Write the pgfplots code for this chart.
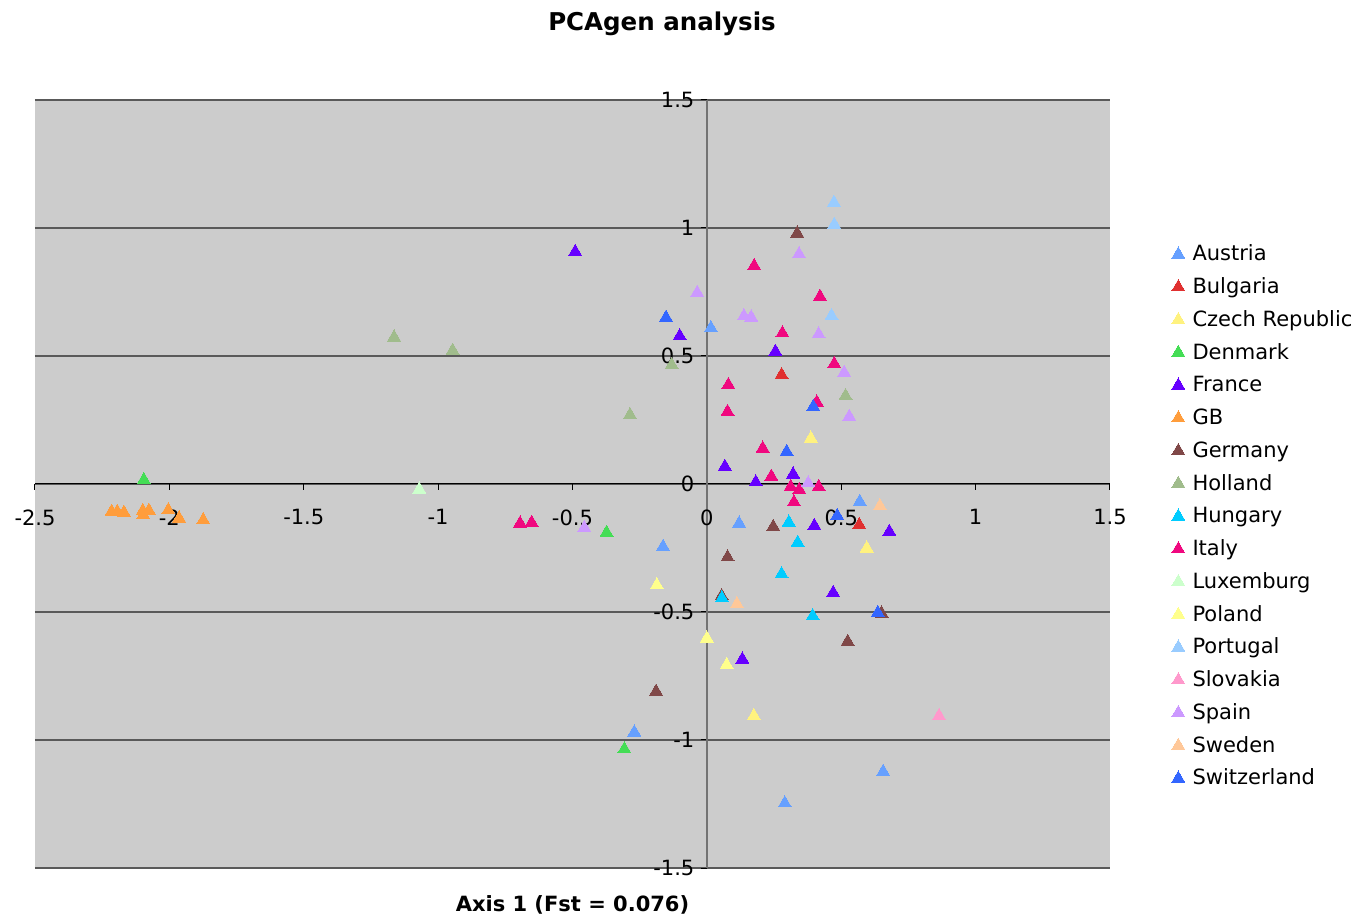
\documentclass[border=0pt]{standalone}
\usepackage{pgfplots}
\pgfplotsset{compat=1.18}
\usepackage{fontspec}
\setmainfont{DejaVu Sans}
\definecolor{cAustria}{HTML}{66A0FF}
\definecolor{cBulgaria}{HTML}{E03030}
\definecolor{cCzech}{HTML}{FFF27F}
\definecolor{cDenmark}{HTML}{44DD55}
\definecolor{cFrance}{HTML}{6600FF}
\definecolor{cGB}{HTML}{FF9D3C}
\definecolor{cGermany}{HTML}{804848}
\definecolor{cHolland}{HTML}{A0BC8C}
\definecolor{cHungary}{HTML}{00CCFF}
\definecolor{cItaly}{HTML}{F0087F}
\definecolor{cLux}{HTML}{CCFFCC}
\definecolor{cPoland}{HTML}{FFFF8C}
\definecolor{cPortugal}{HTML}{99CCFF}
\definecolor{cSlovakia}{HTML}{FF99CC}
\definecolor{cSpain}{HTML}{CC99FF}
\definecolor{cSweden}{HTML}{FFC899}
\definecolor{cSwiss}{HTML}{3366FF}
\pgfplotsset{pt/.style={only marks, mark=triangle*, mark size=7.5pt, mark options={fill=#1, draw=#1, line width=0pt}}}
\begin{document}
\begin{tikzpicture}
\path[use as bounding box] (-35pt,-50pt) rectangle (1322pt,868pt);
\begin{axis}[
  at={(0pt,0pt)}, anchor=south west,
  scale only axis, width=1075pt, height=768pt,
  xmin=-2.5, xmax=1.5, ymin=-1.5, ymax=1.5,
  axis lines=middle,
  axis line style={-},
  x axis line style={black, line width=1pt},
  y axis line style={black!55, line width=2pt},
  axis background/.style={fill=black!20},
  xtick={-2.5,-2,-1.5,-1,-0.5,0,0.5,1,1.5},
  ytick={-1.5,-1,-0.5,0,0.5,1,1.5},
  hide obscured x ticks=false, hide obscured y ticks=false,
  tick align=outside, major tick length=6pt,
  tick style={black, line width=1pt},
  ymajorgrids, major grid style={draw=black!65, line width=1.5pt},
  /pgf/number format/assume math mode=true,
  ticklabel style={font=\fontsize{21}{25}\selectfont},
  xticklabel style={yshift=-16pt},
  yticklabel style={xshift=-3pt},
  xlabel={Axis 1 (Fst = 0.076)},
  xlabel style={at={(axis description cs:0.5,0)}, anchor=center, yshift=-37pt, font=\bfseries\fontsize{21}{25}\selectfont},
  legend style={draw=none, fill=none, at={(axis description cs:1.0567,0.8115)}, anchor=north west, inner sep=0pt,
    font=\fontsize{21}{25}\selectfont, row sep=11.75pt, nodes={inner ysep=0pt, text height=16pt, text depth=5pt}},
  legend cell align=left,
  legend image code/.code={\draw[#1, mark repeat=2, mark phase=2] plot coordinates {(0pt,1pt)(7pt,1pt)(19pt,1pt)};
    \path (0pt,1pt) (19pt,1pt);},
]
\addplot[pt=cAustria] coordinates {(0.015,0.609)(0.12,-0.154)(-0.163,-0.245)(-0.27,-0.97)(0.29,-1.247)(0.656,-1.124)(0.569,-0.069)};
\addlegendentry{Austria}
\addplot[pt=cBulgaria] coordinates {(0.278,0.426)(0.567,-0.16)};
\addlegendentry{Bulgaria}
\addplot[pt=cCzech] coordinates {(0.387,0.178)(0.595,-0.251)(0.175,-0.906)};
\addlegendentry{Czech Republic}
\addplot[pt=cDenmark] coordinates {(-2.095,0.016)(-0.373,-0.19)(-0.307,-1.036)};
\addlegendentry{Denmark}
\addplot[pt=cFrance] coordinates {(-0.49,0.907)(-0.101,0.578)(0.255,0.517)(0.067,0.068)(0.182,0.007)(0.321,0.038)(0.40,-0.163)(0.679,-0.186)(0.47,-0.425)(0.132,-0.685)};
\addlegendentry{France}
\addplot[pt=cGB] coordinates {(-2.215,-0.108)(-2.194,-0.108)(-2.169,-0.112)(-2.099,-0.105)(-2.097,-0.121)(-2.076,-0.104)(-2.004,-0.102)(-1.964,-0.134)(-1.874,-0.141)};
\addlegendentry{GB}
\addplot[pt=cGermany] coordinates {(0.336,0.979)(0.247,-0.167)(0.077,-0.286)(0.055,-0.4375)(0.65,-0.505)(0.524,-0.616)(-0.189,-0.811)};
\addlegendentry{Germany}
\addplot[pt=cHolland] coordinates {(-1.164,0.573)(-0.946,0.521)(-0.131,0.465)(-0.286,0.27)(0.516,0.344)};
\addlegendentry{Holland}
\addplot[pt=cHungary] coordinates {(0.305,-0.15)(0.338,-0.229)(0.278,-0.352)(0.056,-0.446)(0.394,-0.516)};
\addlegendentry{Hungary}
\addplot[pt=cItaly] coordinates {(0.176,0.852)(0.421,0.732)(0.281,0.589)(0.474,0.469)(0.08,0.387)(0.077,0.282)(0.409,0.319)(0.208,0.139)(0.24,0.029)(0.312,-0.011)(0.344,-0.023)(0.416,-0.011)(0.324,-0.071)(-0.695,-0.154)(-0.652,-0.151)};
\addlegendentry{Italy}
\addplot[pt=cLux] coordinates {(-1.07,-0.021)};
\addlegendentry{Luxemburg}
\addplot[pt=cPoland] coordinates {(-0.186,-0.395)(0.0,-0.603)(0.074,-0.707)};
\addlegendentry{Poland}
\addplot[pt=cPortugal] coordinates {(0.473,1.099)(0.474,1.013)(0.464,0.657)};
\addlegendentry{Portugal}
\addplot[pt=cSlovakia] coordinates {(0.864,-0.906)};
\addlegendentry{Slovakia}
\addplot[pt=cSpain] coordinates {(0.343,0.898)(-0.036,0.747)(0.138,0.656)(0.165,0.651)(0.416,0.585)(0.511,0.435)(0.53,0.263)(0.377,0.003)(-0.456,-0.171)};
\addlegendentry{Spain}
\addplot[pt=cSweden] coordinates {(0.644,-0.086)(0.112,-0.469)};
\addlegendentry{Sweden}
\addplot[pt=cSwiss] coordinates {(-0.152,0.65)(0.396,0.302)(0.297,0.126)(0.485,-0.124)(0.636,-0.503)};
\addlegendentry{Switzerland}
\end{axis}
\node[font=\bfseries\fontsize{24.5}{29}\selectfont] at (627pt,844pt) {PCAgen analysis};
\end{tikzpicture}
\end{document}
